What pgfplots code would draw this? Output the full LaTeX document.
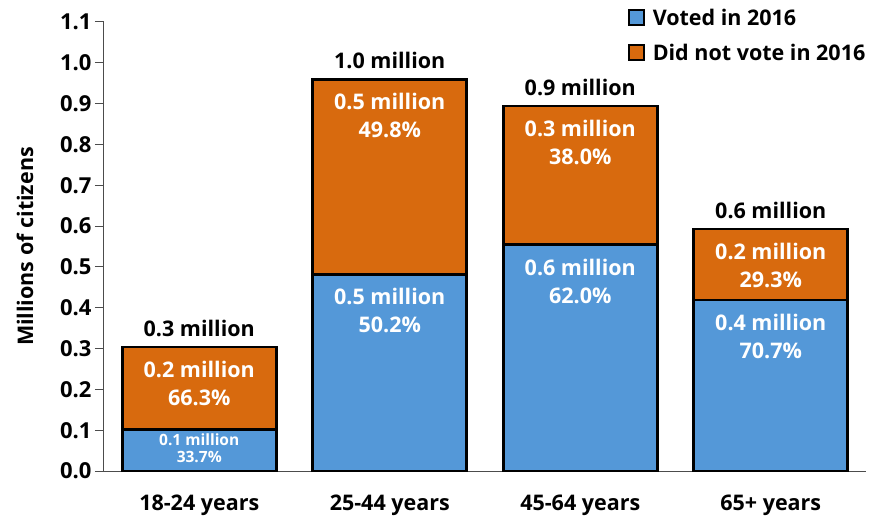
\documentclass[border=0pt]{standalone}
\usepackage{pgfplots}
\pgfplotsset{compat=1.18}
\usepackage{fontspec}
\setmainfont{Open Sans}
\definecolor{cblue}{RGB}{84,152,216}
\definecolor{corange}{RGB}{216,106,14}
\newcommand{\fnt}{\fontsize{21.5}{26}\selectfont\bfseries}
\tikzset{wl/.style={anchor=base, text=white, font=\fnt}, tl/.style={anchor=base, yshift=10.3pt, font=\fnt}}
\begin{document}
\begin{tikzpicture}[font=\fnt]
\path[use as bounding box] (-104pt,-46pt) rectangle (766pt,471pt);
\begin{axis}[
 at={(0,0)}, anchor=south west,
 scale only axis, width=762pt, height=449pt,
 ybar stacked, bar width=154pt,
 xmin=-0.5, xmax=3.5, ymin=0, ymax=1.1,
 xtick=data, xticklabels={18-24 years,25-44 years,45-64 years,65+ years},
 x tick style={draw=none},
 ytick={0,0.1,0.2,0.3,0.4,0.5,0.6,0.7,0.8,0.9,1.0,1.1},
 yticklabel style={/pgf/number format/fixed, /pgf/number format/fixed zerofill, /pgf/number format/precision=1, font=\fontsize{22}{26}\selectfont\bfseries},
 /pgf/number format/assume math mode=true,
 xticklabel style={yshift=-11pt, font=\fnt},
 axis x line*=bottom, axis y line*=left,
 axis line style={black!70, line width=1pt},
 y tick style={black!70, line width=1pt},
 tick align=outside, major tick length=9pt,
 ylabel={Millions of citizens},
 every axis y label/.style={at={(axis description cs:-0.1037,0.5)}, rotate=90, anchor=center, font=\fnt},
 legend style={at={(1.002,1.034)}, anchor=north east, draw=none, fill=none, inner sep=0pt, row sep=13pt, font=\fnt},
 legend cell align=left,
 legend image code/.code={\draw[#1,line width=1.8pt] (0pt,-7.5pt) rectangle (15pt,7.5pt); \path (20pt,0pt);},
]
\addplot[fill=cblue, draw=black, line width=2.8pt] coordinates {(0,0.1025) (1,0.482) (2,0.554) (3,0.419)};
\addplot[fill=corange, draw=black, line width=2.8pt] coordinates {(0,0.2015) (1,0.478) (2,0.340) (3,0.174)};
\legend{Voted in 2016, Did not vote in 2016}
\coordinate (a0) at (axis cs:0,0.304);
\coordinate (a1) at (axis cs:1,0.960);
\coordinate (a2) at (axis cs:2,0.894);
\coordinate (a3) at (axis cs:3,0.593);
\coordinate (b0) at (axis cs:0,0.1025);
\coordinate (b1) at (axis cs:1,0.482);
\coordinate (b2) at (axis cs:2,0.554);
\coordinate (b3) at (axis cs:3,0.419);
\end{axis}
\node[tl] at (a0) {0.3 million};
\node[tl] at (a1) {1.0 million};
\node[tl] at (a2) {0.9 million};
\node[tl] at (a3) {0.6 million};
\node[wl, yshift=-30.7pt] at (a0) {0.2 million};
\node[wl, yshift=-58.7pt] at (a0) {66.3\%};
\node[wl, yshift=-30.7pt] at (a1) {0.5 million};
\node[wl, yshift=-58.7pt] at (a1) {49.8\%};
\node[wl, yshift=-30.7pt] at (a2) {0.3 million};
\node[wl, yshift=-58.7pt] at (a2) {38.0\%};
\node[wl, yshift=-30.7pt] at (a3) {0.2 million};
\node[wl, yshift=-58.7pt] at (a3) {29.3\%};
\node[wl, yshift=-30.7pt] at (b1) {0.5 million};
\node[wl, yshift=-58.7pt] at (b1) {50.2\%};
\node[wl, yshift=-30.7pt] at (b2) {0.6 million};
\node[wl, yshift=-58.7pt] at (b2) {62.0\%};
\node[wl, yshift=-30.7pt] at (b3) {0.4 million};
\node[wl, yshift=-58.7pt] at (b3) {70.7\%};
\node[wl, yshift=-16.5pt, font=\fontsize{15.5}{18}\selectfont\bfseries] at (b0) {0.1 million};
\node[wl, yshift=-33.5pt, font=\fontsize{15.5}{18}\selectfont\bfseries] at (b0) {33.7\%};
\end{tikzpicture}
\end{document}
